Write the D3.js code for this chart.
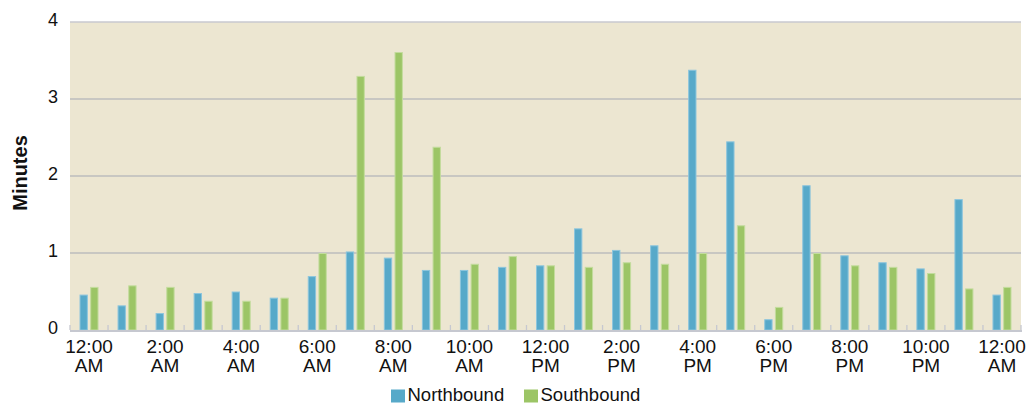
<!DOCTYPE html>
<html>
<head>
<meta charset="utf-8">
<script src="https://cdn.jsdelivr.net/npm/d3@7"></script>
<style>
  html, body { margin: 0; padding: 0; background: #fff; }
  svg { display: block; font-family: "Liberation Sans", Arial, sans-serif; }
</style>
</head>
<body>
<svg id="chart" width="1028" height="405"></svg>
<script>
const hours = ["12:00 AM","1:00 AM","2:00 AM","3:00 AM","4:00 AM","5:00 AM","6:00 AM","7:00 AM","8:00 AM","9:00 AM","10:00 AM","11:00 AM","12:00 PM","1:00 PM","2:00 PM","3:00 PM","4:00 PM","5:00 PM","6:00 PM","7:00 PM","8:00 PM","9:00 PM","10:00 PM","11:00 PM","12:00 AM "];
const northbound = [0.46,0.32,0.22,0.48,0.50,0.42,0.70,1.02,0.94,0.78,0.78,0.82,0.84,1.32,1.04,1.10,3.38,2.45,0.14,1.88,0.97,0.88,0.80,1.70,0.46];
const southbound = [0.56,0.58,0.56,0.38,0.38,0.42,1.00,3.30,3.61,2.38,0.86,0.96,0.84,0.82,0.88,0.86,1.00,1.36,0.30,1.00,0.84,0.82,0.74,0.54,0.56];
const seriesNames = ["Northbound","Southbound"];
const yTicks = [0,1,2,3,4];

const colors = { Northbound: "#57a9c9", Southbound: "#9cc566" };
const strokes = { Northbound: "#8cc5dd", Southbound: "#c3dc9d" };

const svg = d3.select("#chart");
const L = 70, R = 1021, T = 22, B = 330;

const x0 = d3.scaleBand().domain(d3.range(hours.length)).range([L, R]).paddingInner(0.5).paddingOuter(0.25);
const x1 = d3.scaleBand().domain(seriesNames).range([0, x0.bandwidth()]).paddingInner(0.22);
const y = d3.scaleLinear().domain([0, 4]).range([B, T]);

// background
svg.append("rect").attr("x", L).attr("y", T).attr("width", R - L).attr("height", B - T).attr("fill", "#ece6d1");

// gridlines
svg.append("g").selectAll("line").data(yTicks.filter(d => d > 0)).join("line")
  .attr("x1", L).attr("x2", R)
  .attr("y1", d => y(d)).attr("y2", d => y(d))
  .attr("stroke", d => d === 4 ? "#c9c9cf" : "#bcbcbc").attr("stroke-width", 1.3);

// bars
const rows = hours.map((h, i) => ({ i, vals: [ {k: "Northbound", v: northbound[i]}, {k: "Southbound", v: southbound[i]} ] }));
const g = svg.append("g").selectAll("g").data(rows).join("g")
  .attr("transform", d => `translate(${x0(d.i)},0)`);
g.selectAll("rect").data(d => d.vals).join("rect")
  .attr("x", d => x1(d.k) + 0.5)
  .attr("width", x1.bandwidth() - 1)
  .attr("y", d => y(d.v) + 0.5)
  .attr("height", d => Math.max(0, B - y(d.v) - 0.5))
  .attr("fill", d => colors[d.k])
  .attr("stroke", d => strokes[d.k])
  .attr("stroke-width", 1);

// x axis line and ticks (ticks pointing up into plot at band boundaries)
const step = x0.step();
const axisG = svg.append("g");
axisG.append("line").attr("x1", L).attr("x2", R + 1).attr("y1", B + 1).attr("y2", B + 1)
  .attr("stroke", "#c6c8d0").attr("stroke-width", 2);
axisG.selectAll("line.tick").data(d3.range(hours.length + 1)).join("line").attr("class", "tick")
  .attr("x1", i => L + i * step).attr("x2", i => L + i * step)
  .attr("y1", B - 5).attr("y2", B)
  .attr("stroke", "#c6c8d0").attr("stroke-width", 1.3);

// x labels (every 2 hours)
const xl = svg.append("g").selectAll("text").data(hours.map((h, i) => ({h, i})).filter(d => d.i % 2 === 0)).join("text")
  .attr("text-anchor", "middle")
  .attr("font-size", 19)
  .attr("fill", "#111");
xl.each(function(d) {
  const parts = d.h.trim().split(" ");
  const t = d3.select(this);
  const cx = x0(d.i) + x0.bandwidth() / 2;
  t.append("tspan").attr("x", cx).attr("y", 352.5).text(parts[0]);
  t.append("tspan").attr("x", cx).attr("y", 371.5).text(parts[1]);
});

// y labels
svg.append("g").selectAll("text").data(yTicks).join("text")
  .attr("x", 58).attr("y", d => y(d) - 2)
  .attr("dy", "0.35em")
  .attr("text-anchor", "end")
  .attr("font-size", 18)
  .attr("fill", "#111")
  .text(d => d);

// y title
svg.append("text")
  .attr("transform", `translate(27,${(T + B) / 2 - 3}) rotate(-90)`)
  .attr("text-anchor", "middle")
  .attr("font-size", 20)
  .attr("font-weight", "bold")
  .attr("fill", "#111")
  .text("Minutes");

// legend
const legendX = [391, 524];
const lg = svg.append("g").selectAll("g").data(seriesNames).join("g")
  .attr("transform", (d, i) => `translate(${legendX[i]},0)`);
lg.append("rect").attr("x", 0).attr("y", 389.5).attr("width", 14).attr("height", 13).attr("fill", d => colors[d]);
lg.append("text").attr("x", 16.5).attr("y", 400.5).attr("font-size", 18.5).attr("fill", "#111").text(d => d);
</script>
</body>
</html>
